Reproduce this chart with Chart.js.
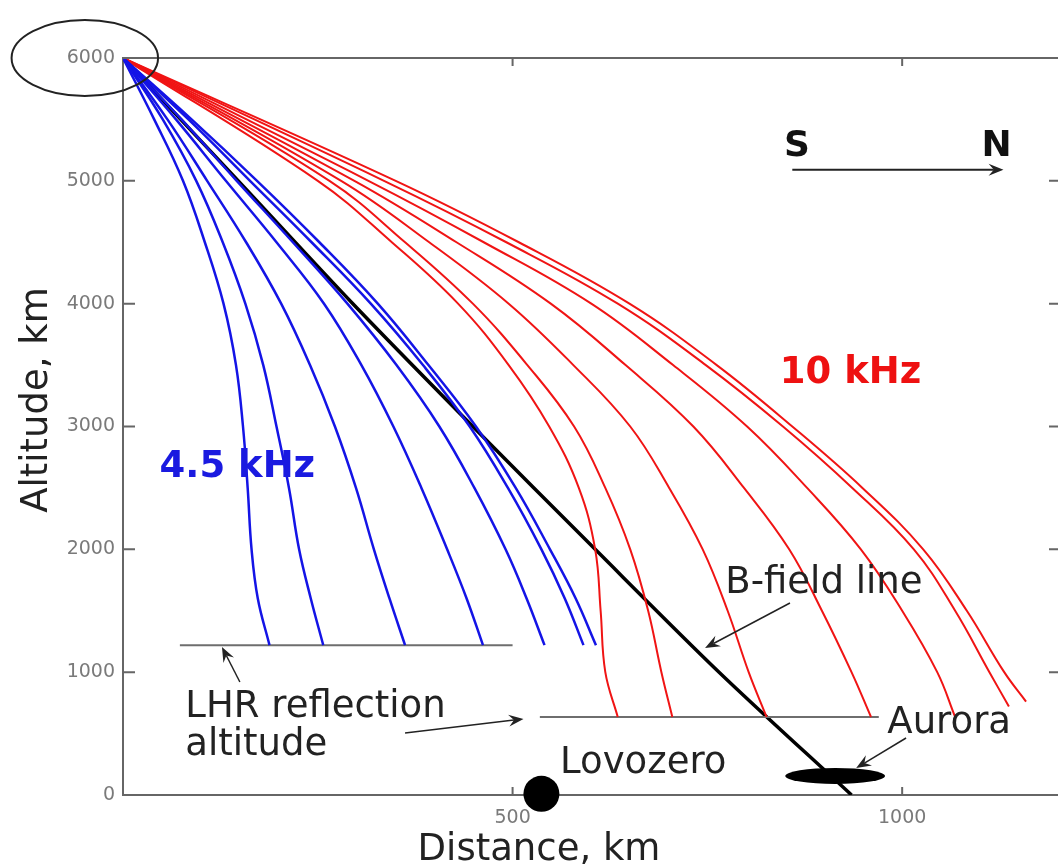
<!DOCTYPE html>
<html>
<head>
<meta charset="utf-8">
<title>LHR ray paths</title>
<script src="https://cdn.jsdelivr.net/npm/chart.js@4.4.0/dist/chart.umd.min.js"></script>
<style>
    html, body { margin: 0; padding: 0; background: #fff; overflow: hidden; }
    #chart-wrap { position: relative; width: 1058px; height: 868px; }
    #chart-wrap canvas { display: block; }
</style>
</head>
<body>
<div id="chart-wrap"><canvas id="ray-chart"></canvas></div>
<script>
// 轴刻度
const distanceTicks = [500, 1000];
const altitudeTicks = [0, 1000, 2000, 3000, 4000, 5000, 6000];

// 4.5 kHz 射线：各高度上的水平距离 (km)
const blueAltitudes = [6000, 5500, 5000, 4500, 4000, 3500, 3000, 2500, 2000, 1600, 1220];
const blueRay1 = [0, 40, 77, 105, 129, 145, 154, 160, 165, 173, 188];
const blueRay2 = [0, 51, 94, 128, 157, 180, 197, 213, 226, 241, 257];
const blueRay3 = [0, 57, 108, 158, 203, 240, 272, 299, 322, 342, 362];
const blueRay4 = [0, 68, 132, 197, 258, 306, 347, 383, 416, 441, 462];
const blueRay5 = [0, 75, 146, 218, 288, 351, 406, 451, 491, 518, 541];
const blueRay6 = [0, 84, 163, 242, 318, 385, 445, 494, 537, 567, 591];
const blueRay7 = [0, 88, 172, 252, 327, 392, 453, 504, 548, 581, 607];

// 10 kHz 射线：最后一个点落在各自的终止高度
const redAltitudes = [6000, 5000, 4500, 4000, 3500, 3000, 2500, 2000, 1500, 1000];
const redEndAltitudes = [635, 635, 635, 635, 635, 720, 760];
const redRay1 = [0, 250, 345, 430, 495, 547, 585, 606, 613, 619, 635];
const redRay2 = [0, 265, 362, 449, 519, 579, 619, 651, 674, 691, 705];
const redRay3 = [0, 280, 393, 495, 578, 651, 701, 744, 776, 803, 826];
const redRay4 = [0, 297, 428, 549, 645, 732, 797, 855, 897, 935, 960];
const redRay5 = [0, 315, 463, 601, 706, 801, 878, 947, 1000, 1045, 1068];
const redRay6 = [0, 335, 492, 635, 748, 847, 936, 1015, 1068, 1112, 1137];
const redRay7 = [0, 350, 508, 650, 762, 859, 949, 1027, 1083, 1131, 1159];

// 磁力线
const bFieldAltitudes = [6000, 5000, 4000, 3000, 2000, 1000, 0];
const bFieldDistance = [0, 148, 295, 449, 606, 765, 935];

// LHR 反射高度（两段）
const lhrAltitudes = [1220, 635];
const lhrStart = [73, 535];
const lhrEnd = [500, 970];

// Lovozero 台站
const stationDistance = [537];
const stationAltitude = [10];

const FONT = '"DejaVu Sans", Verdana, sans-serif';

document.addEventListener('DOMContentLoaded', () => {
    initRayChart();
});

// 把两个数组拼成点
function toPoints(xs, ys) {
    return xs.map((x, i) => ({ x: x, y: ys[i] }));
}

// 画箭头
function drawArrow(ctx, x1, y1, x2, y2, head, width) {
    const ang = Math.atan2(y2 - y1, x2 - x1);
    ctx.save();
    ctx.strokeStyle = '#222';
    ctx.fillStyle = '#222';
    ctx.lineWidth = width;
    ctx.beginPath();
    ctx.moveTo(x1, y1);
    ctx.lineTo(x2 - Math.cos(ang) * head * 0.6, y2 - Math.sin(ang) * head * 0.6);
    ctx.stroke();
    ctx.beginPath();
    ctx.moveTo(x2, y2);
    ctx.lineTo(x2 - head * Math.cos(ang - 0.38), y2 - head * Math.sin(ang - 0.38));
    ctx.lineTo(x2 - head * 0.6 * Math.cos(ang), y2 - head * 0.6 * Math.sin(ang));
    ctx.lineTo(x2 - head * Math.cos(ang + 0.38), y2 - head * Math.sin(ang + 0.38));
    ctx.closePath();
    ctx.fill();
    ctx.restore();
}

// 标注：位置用数据坐标 (km)
const labels = [
    { text: 'S', x: 865, y: 5277, align: 'center', font: 'bold 36px ' + FONT, color: '#111' },
    { text: 'N', x: 1121, y: 5277, align: 'center', font: 'bold 36px ' + FONT, color: '#111' },
    { text: '10 kHz', x: 843, y: 3436, align: 'left', font: 'bold 37px ' + FONT, color: '#ee1111' },
    { text: '4.5 kHz', x: 47, y: 2671, align: 'left', font: 'bold 37px ' + FONT, color: '#1a1ae0' },
    { text: 'B-field line', x: 773, y: 1726, align: 'left', font: '37px ' + FONT, color: '#222' },
    { text: 'LHR reflection', x: 80, y: 717, align: 'left', font: '37px ' + FONT, color: '#222' },
    { text: 'altitude', x: 80, y: 407, align: 'left', font: '37px ' + FONT, color: '#222' },
    { text: 'Aurora', x: 981, y: 586, align: 'left', font: '37px ' + FONT, color: '#222' },
    { text: 'Lovozero', x: 561, y: 260, align: 'left', font: '37px ' + FONT, color: '#222' }
];

const arrows = [
    { from: [859, 5090], to: [1130, 5090], head: 16, width: 2 },
    { from: [856, 1563], to: [747, 1197], head: 16, width: 1.5 },
    { from: [150, 920], to: [127, 1205], head: 16, width: 1.5 },
    { from: [362, 505], to: [514, 619], head: 16, width: 1.5 },
    { from: [1005, 464], to: [941, 220], head: 16, width: 1.5 }
];

// 自定义绘制：内向刻度、上边框、标注
const sketchPlugin = {
    id: 'sketch',
    afterDraw(chart) {
        const { ctx, chartArea, scales } = chart;
        const xs = scales.x;
        const ys = scales.y;
        ctx.save();

        // 上边框
        ctx.strokeStyle = '#666';
        ctx.lineWidth = 2;
        ctx.beginPath();
        ctx.moveTo(chartArea.left, chartArea.top);
        ctx.lineTo(chartArea.right, chartArea.top);
        ctx.stroke();

        // 内向刻度
        ctx.beginPath();
        altitudeTicks.forEach(v => {
            const py = ys.getPixelForValue(v);
            ctx.moveTo(chartArea.left, py);
            ctx.lineTo(chartArea.left + 12, py);
            ctx.moveTo(chartArea.right - 9, py);
            ctx.lineTo(chartArea.right, py);
        });
        distanceTicks.forEach(v => {
            const px = xs.getPixelForValue(v);
            ctx.moveTo(px, chartArea.top);
            ctx.lineTo(px, chartArea.top + 8);
            ctx.moveTo(px, chartArea.bottom);
            ctx.lineTo(px, chartArea.bottom - 8);
        });
        ctx.stroke();

        // 极光椭圆
        const ax = xs.getPixelForValue(914);
        const ay = ys.getPixelForValue(155);
        ctx.fillStyle = '#000';
        ctx.beginPath();
        ctx.ellipse(ax, ay, xs.getPixelForValue(64) - xs.getPixelForValue(0),
            ys.getPixelForValue(0) - ys.getPixelForValue(65), 0, 0, Math.PI * 2);
        ctx.fill();

        // 起点处的圈
        ctx.strokeStyle = '#222';
        ctx.lineWidth = 2;
        ctx.beginPath();
        ctx.ellipse(xs.getPixelForValue(-49), ys.getPixelForValue(6000),
            xs.getPixelForValue(94) - xs.getPixelForValue(0),
            ys.getPixelForValue(0) - ys.getPixelForValue(309), 0, 0, Math.PI * 2);
        ctx.stroke();

        // 箭头
        arrows.forEach(a => {
            drawArrow(ctx,
                xs.getPixelForValue(a.from[0]), ys.getPixelForValue(a.from[1]),
                xs.getPixelForValue(a.to[0]), ys.getPixelForValue(a.to[1]),
                a.head, a.width);
        });

        // 文字
        ctx.textBaseline = 'middle';
        labels.forEach(l => {
            ctx.font = l.font;
            ctx.fillStyle = l.color;
            ctx.textAlign = l.align;
            ctx.fillText(l.text, xs.getPixelForValue(l.x), ys.getPixelForValue(l.y));
        });

        // 轴标题
        ctx.font = '37px ' + FONT;
        ctx.fillStyle = '#222';
        ctx.textAlign = 'center';
        ctx.fillText('Distance, km', 539, 850);
        ctx.save();
        ctx.translate(37, 400);
        ctx.rotate(-Math.PI / 2);
        ctx.fillText('Altitude, km', 0, 0);
        ctx.restore();

        ctx.restore();
    }
};

// 初始化射线图
function initRayChart() {
    const ctx = document.getElementById('ray-chart').getContext('2d');

    const blueRays = [blueRay1, blueRay2, blueRay3, blueRay4, blueRay5, blueRay6, blueRay7];
    const redRays = [redRay1, redRay2, redRay3, redRay4, redRay5, redRay6, redRay7];

    const datasets = [];

    blueRays.forEach((ray, i) => {
        datasets.push({
            label: '4.5 kHz ' + (i + 1),
            data: toPoints(ray, blueAltitudes),
            borderColor: '#1414e6',
            borderWidth: 2.5,
            tension: 0.4
        });
    });

    redRays.forEach((ray, i) => {
        datasets.push({
            label: '10 kHz ' + (i + 1),
            data: toPoints(ray, redAltitudes.concat([redEndAltitudes[i]])),
            borderColor: '#f01414',
            borderWidth: 2,
            tension: 0.4
        });
    });

    lhrAltitudes.forEach((alt, i) => {
        datasets.push({
            label: 'LHR ' + (i + 1),
            data: [{ x: lhrStart[i], y: alt }, { x: lhrEnd[i], y: alt }],
            borderColor: '#6e6e6e',
            borderWidth: 2
        });
    });

    datasets.push({
        label: 'B-field line',
        data: toPoints(bFieldDistance, bFieldAltitudes),
        borderColor: '#000',
        borderWidth: 3.5,
        tension: 0.3
    });

    datasets.push({
        label: 'Lovozero',
        data: toPoints(stationDistance, stationAltitude),
        showLine: false,
        pointRadius: 18,
        pointBackgroundColor: '#000',
        pointBorderWidth: 0,
        clip: false
    });

    new Chart(ctx, {
        type: 'scatter',
        data: { datasets: datasets },
        options: {
            responsive: true,
            maintainAspectRatio: false,
            animation: false,
            showLine: true,
            elements: { point: { radius: 0 } },
            layout: {
                autoPadding: false,
                padding: { top: 58, left: 0, right: 0, bottom: 0 }
            },
            plugins: {
                legend: { display: false },
                tooltip: { enabled: false }
            },
            scales: {
                x: {
                    type: 'linear',
                    min: 0,
                    max: 1200,
                    grid: { display: false, drawTicks: false },
                    border: { display: true, color: '#666', width: 2 },
                    ticks: {
                        color: '#7a7a7a',
                        padding: 12,
                        maxRotation: 0,
                        font: { family: 'DejaVu Sans', size: 19 },
                        callback: v => String(v)
                    },
                    afterBuildTicks: scale => {
                        scale.ticks = distanceTicks.map(v => ({ value: v }));
                    },
                    afterFit: scale => {
                        scale.height = 73;
                        scale.paddingLeft = 0;
                        scale.paddingRight = 0;
                    }
                },
                y: {
                    type: 'linear',
                    min: 0,
                    max: 6000,
                    grid: { display: false, drawTicks: false },
                    border: { display: true, color: '#666', width: 2 },
                    ticks: {
                        color: '#7a7a7a',
                        padding: 8,
                        font: { family: 'DejaVu Sans', size: 19 },
                        callback: v => String(v)
                    },
                    afterBuildTicks: scale => {
                        scale.ticks = altitudeTicks.map(v => ({ value: v }));
                    },
                    afterFit: scale => {
                        scale.width = 123;
                        scale.paddingTop = 0;
                        scale.paddingBottom = 0;
                    }
                }
            }
        },
        plugins: [sketchPlugin]
    });
}
</script>
</body>
</html>
